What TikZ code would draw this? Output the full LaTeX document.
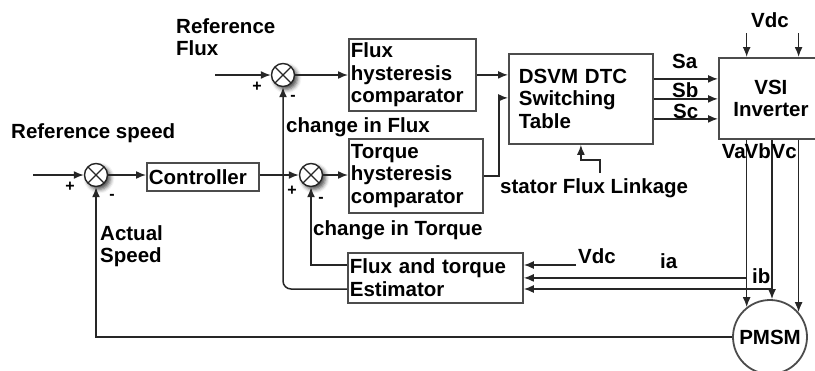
\documentclass[tikz,border=0pt]{standalone}
\usepackage{fontspec}
\setmainfont{Liberation Sans}
\usetikzlibrary{arrows.meta,shadows.blur}

\begin{document}
\begin{tikzpicture}[x=1pt, y=-1pt, >={Latex[length=10pt,width=8pt]},
    conn/.style={draw=black!85, line width=1.5pt},
    blockbox/.style={draw=black!70, line width=1.8pt, anchor=north west, align=left,
        inner xsep=2pt, inner ysep=0pt, font=\fontsize{20.5}{22.5}\selectfont\bfseries},
    sumnode/.style={circle, draw=black!85, line width=1.4pt, fill=white, minimum size=23pt, inner sep=0pt,
        blur shadow={shadow xshift=3pt, shadow yshift=-3pt, shadow blur radius=4pt, shadow opacity=70},
        path picture={\draw[line width=1.2pt] ([shift={(45:11.5pt)}]path picture bounding box.center)
            -- ([shift={(225:11.5pt)}]path picture bounding box.center)
            ([shift={(135:11.5pt)}]path picture bounding box.center)
            -- ([shift={(-45:11.5pt)}]path picture bounding box.center);}},
    lbl/.style={inner sep=0pt, align=left, font=\fontsize{20.5}{22.5}\selectfont\bfseries},
    sgn/.style={inner sep=0pt, font=\fontsize{16}{16}\selectfont\bfseries}]
    \useasboundingbox (0,0) rectangle (815,370);
    \clip (0,0) rectangle (815,370);
    \node[blockbox, text width=123pt, minimum height=72pt] (fcomp) at (348,38) {Flux\\hysteresis\\comparator};
    \node[blockbox, text width=130pt, minimum height=74pt] (tcomp) at (348,138) {Torque\\hysteresis\\comparator};
    \node[blockbox, text width=108pt, minimum height=28pt] (ctrl) at (146,162) {Controller};
    \node[blockbox, text width=171pt, minimum height=50pt] (est) at (347,252) {Flux and torque\\Estimator};
    \node[blockbox, text width=124pt, inner xsep=10pt, minimum height=90pt] (dsvm) at (508,53) {DSVM DTC\\Switching\\Table};
    \node[blockbox, text width=100pt, align=center, minimum height=81pt] (vsi) at (718,57) {VSI\\Inverter};
    \node[circle, draw=black!70, line width=1.8pt, minimum size=74pt, inner sep=0pt,
        font=\fontsize{20.5}{22.5}\selectfont\bfseries] (pmsm) at (770,337) {PMSM};
    \node[sumnode] (ssum) at (96,175) {};
    \node[sumnode] (fsum) at (283,75) {};
    \node[sumnode] (tsum) at (311,175) {};
    \coordinate (spdin) at (33,175);
    \coordinate (fluxin) at (215,75);
    \coordinate (sfl) at (600,173);
    \coordinate (vdcin) at (576,265);
    \draw[conn,->] (spdin) -- (ssum.west);
    \draw[conn,->] (fluxin) -- (fsum.west);
    \draw[conn,->] (ssum.east) -- (ssum.east -| ctrl.west);
    \draw[conn,->] (ctrl.east |- tsum) -- (tsum.west);
    \draw[conn,->] (fsum.east) -- (fsum.east -| fcomp.west);
    \draw[conn,->] (tsum.east) -- (tsum.east -| tcomp.west);
    \draw[conn,->] (fcomp.east) -- (fcomp.east -| dsvm.west);
    \draw[conn,->] (tcomp.east) -- ++(15,0) |- ([yshift=1pt]dsvm.west);
    \draw[conn,->] (sfl) -- ++(0,-13) -| (dsvm.south);
    \draw[conn,->] ([yshift=20pt]dsvm.east) -- ([yshift=20pt]dsvm.east -| vsi.west);
    \draw[conn,->] (dsvm.east) -- (dsvm.east -| vsi.west);
    \draw[conn,->] ([yshift=-20pt]dsvm.east) -- ([yshift=-20pt]dsvm.east -| vsi.west);
    \draw[conn,->] (pmsm.128 |- 0,33) -- (pmsm.128 |- vsi.north);
    \draw[conn,->] (pmsm.41 |- 0,33) -- (pmsm.41 |- vsi.north);
    \draw[conn,->] (pmsm.128 |- vsi.south) -- (pmsm.128);
    \draw[conn,->] (pmsm.87 |- vsi.south) -- (pmsm.87);
    \draw[conn,->] (pmsm.41 |- vsi.south) -- (pmsm.41);
    \draw[conn,->] (vdcin) -- (vdcin -| est.east);
    \draw[conn,->] (pmsm.128 |- est.east) -- (est.east);
    \draw[conn,->] (pmsm.87 |- 0,289) -- (est.east |- 0,289);
    \draw[conn,->] (pmsm.west) -| (ssum.south);
    \draw[conn,->] (est.west |- 0,265) -| (tsum.south);
    \draw[conn,->,rounded corners=8pt] (est.west |- 0,289) -| (fsum.south);
    \node[sgn] (ssplus) at (70,187) {+};
    \node[sgn] (ssminus) at (112,197) {-};
    \node[sgn] (fsplus) at (257,87) {+};
    \node[sgn] (fsminus) at (293,98) {-};
    \node[sgn] (tsplus) at (292,191) {+};
    \node[sgn] (tsminus) at (321,200) {-};
    \node[lbl, anchor=north west] (refflux) at (176,18) {Reference\\Flux};
    \node[lbl, anchor=base west] (refspd) at (11,138) {Reference speed};
    \node[lbl, anchor=base west] (dflux) at (286,132) {change in Flux};
    \node[lbl, anchor=north west] (actspd) at (100,225) {Actual\\Speed};
    \node[lbl, anchor=base west] (dtorq) at (313,235) {change in Torque};
    \node[lbl, anchor=base west] (sfltxt) at (500,193) {stator Flux Linkage};
    \node[lbl, anchor=base west] (satxt) at (672,68) {Sa};
    \node[lbl, anchor=base west] (sbtxt) at (672,97) {Sb};
    \node[lbl, anchor=base west] (sctxt) at (673,118) {Sc};
    \node[lbl, anchor=base] (vdctop) at (770,27) {Vdc};
    \node[lbl, anchor=base east] (vatxt) at (746,158) {Va};
    \node[lbl, anchor=base east] (vbtxt) at (771,158) {Vb};
    \node[lbl, anchor=base east] (vctxt) at (797,158) {Vc};
    \node[lbl, anchor=base west] (vdcest) at (578,263) {Vdc};
    \node[lbl, anchor=base west] (iatxt) at (660,268) {ia};
    \node[lbl, anchor=base west] (ibtxt) at (752,283) {ib};
\end{tikzpicture}
\end{document}
